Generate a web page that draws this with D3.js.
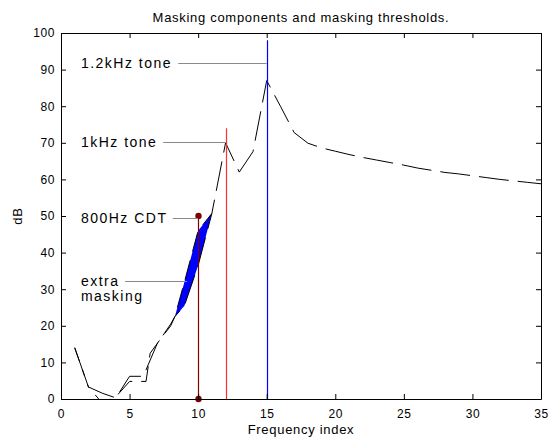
<!DOCTYPE html>
<html>
<head>
<meta charset="utf-8">
<script src="https://cdn.jsdelivr.net/npm/d3@7"></script>
<style>
  body { margin: 0; background: #fff; }
  svg { display: block; font-family: Arial, "Liberation Sans", sans-serif; }
</style>
</head>
<body>
<svg id="chart"></svg>
<script>
// masking threshold (without the CDT)
const threshX = [1, 2, 3, 4, 5, 6, 7, 8, 8.3, 9, 10, 11, 12, 13, 14, 15, 16, 17, 18, 19, 20,
  21, 22, 23, 24, 25, 26, 27, 28, 29, 30, 31, 32, 33, 34, 35]
const threshY = [14, 3.3, 1.6, 0.3, 6.2, 6.2, 15, 20.5, 22.5, 25.5, 36.5, 50.7, 70, 62, 67.6, 87, 80, 72.8, 69.9, 68.6, 67.7,
  66.8, 66, 65.3, 64.6, 63.9, 63.1, 62.5, 61.9, 61.5, 61, 60.5, 60, 59.6, 59.2, 58.8]
// masking threshold with the CDT (part that differs)
const cdtX = [1, 2, 3, 4, 5, 6.2, 6.5, 7.2, 8, 8.3, 9, 10, 11]
const cdtY = [14, 3.3, -1.1, 0.6, 4.8, 4.8, 12.5, 16.1, 20, 22.5, 32, 46, 50.7]
// components (stems)
const stemX = [10, 12, 15]
const stemY = [50, 74, 98]
const stemColors = ['#800000', '#ff3030', '#0000ff']
// annotations
const noteLabels = [['1.2kHz tone'], ['1kHz tone'], ['800Hz CDT'], ['extra', 'masking']]
const noteTextX = [1.45, 1.45, 1.45, 1.45]
const noteY = [91.7, 70.1, 49.4, 32.3]
const noteX0 = [8.55, 7.45, 8.15, 4.67]
const noteX1 = [15, 12, 10, 9.2]
// ticks
const xTicks = [0, 5, 10, 15, 20, 25, 30, 35]
const yTicks = [0, 10, 20, 30, 40, 50, 60, 70, 80, 90, 100]

let width = 549
let height = 439
let padLeft = 61
let padRight = 8
let padTop = 33
let padBottom = 40

let svg = d3.select('#chart')
  .attr('width', width)
  .attr('height', height)

let xScale = d3.scaleLinear().domain([0, 35]).range([padLeft, width - padRight])
let yScale = d3.scaleLinear().domain([0, 100]).range([height - padBottom, padTop])

svg.append('defs').append('clipPath').attr('id', 'plotClip')
  .append('rect')
  .attr('x', padLeft).attr('y', padTop)
  .attr('width', width - padLeft - padRight)
  .attr('height', height - padTop - padBottom)

let plot = svg.append('g').attr('clip-path', 'url(#plotClip)')

// extra masking region between the two thresholds
let fillPts = cdtX.map((x, i) => ({ x: x, hi: cdtY[i], lo: threshY[threshX.indexOf(x)] }))
  .filter(d => d.x >= 8.3)
let area = d3.area()
  .x(d => xScale(d.x))
  .y0(d => yScale(d.lo))
  .y1(d => yScale(d.hi))
plot.append('path')
  .attr('d', area(fillPts))
  .attr('fill', '#0000ff')

// threshold curves (dashed)
let line = d3.line()
  .x(d => xScale(d[0]))
  .y(d => yScale(d[1]))
plot.append('path')
  .attr('d', line(threshX.map((x, i) => [x, threshY[i]])))
  .attr('fill', 'none')
  .attr('stroke', '#000')
  .attr('stroke-width', 1)
  .attr('stroke-dasharray', '30,9')
plot.append('path')
  .attr('d', line(cdtX.map((x, i) => [x, cdtY[i]])))
  .attr('fill', 'none')
  .attr('stroke', '#000')
  .attr('stroke-width', 1)
  .attr('stroke-dasharray', '20,9')
  .attr('stroke-dashoffset', 6)

// stems
stemX.forEach((x, i) => {
  let px = Math.round(xScale(x)) + 0.5
  svg.append('line')
    .attr('x1', px).attr('x2', px)
    .attr('y1', yScale(0)).attr('y2', yScale(stemY[i]))
    .attr('stroke', stemColors[i])
    .attr('stroke-width', 1.2)
})
// markers on the CDT stem
svg.selectAll('circle.cdt')
  .data([0, stemY[0]])
  .enter().append('circle')
  .attr('class', 'cdt')
  .attr('cx', Math.round(xScale(stemX[0])) + 0.5)
  .attr('cy', d => yScale(d))
  .attr('r', 3.2)
  .attr('fill', stemColors[0])

// annotations
noteLabels.forEach((lab, i) => {
  let py = Math.round(yScale(noteY[i])) + 0.5
  svg.append('line')
    .attr('x1', xScale(noteX0[i])).attr('x2', xScale(noteX1[i]))
    .attr('y1', py).attr('y2', py)
    .attr('stroke', '#8a8a8a')
    .attr('stroke-width', 1)
  let t = svg.append('text')
    .attr('x', xScale(noteTextX[i]))
    .attr('y', py + 4.5)
    .style('font-size', '14px')
    .style('letter-spacing', '1.5px')
    .attr('fill', '#000')
  lab.forEach((s, j) => {
    t.append('tspan')
      .attr('x', xScale(noteTextX[i]))
      .attr('dy', j === 0 ? 0 : 15)
      .text(s)
  })
})

// axes, ticks inward on all four sides
function styleAxis(g) {
  g.selectAll('path').attr('stroke', '#000')
  g.selectAll('line').attr('stroke', '#000')
  g.selectAll('text')
    .attr('fill', '#000')
    .style('font-size', '12px')
    .style('letter-spacing', '0.6px')
  g.attr('font-family', null)
}

svg.append('g')
  .attr('transform', 'translate(0,' + yScale(0) + ')')
  .call(d3.axisBottom(xScale).tickValues(xTicks).tickSizeInner(-5).tickSizeOuter(0).tickPadding(10))
  .call(styleAxis)
svg.append('g')
  .attr('transform', 'translate(0,' + yScale(100) + ')')
  .call(d3.axisTop(xScale).tickValues(xTicks).tickSizeInner(-5).tickSizeOuter(0).tickFormat(''))
  .call(styleAxis)
svg.append('g')
  .attr('transform', 'translate(' + xScale(0) + ',0)')
  .call(d3.axisLeft(yScale).tickValues(yTicks).tickSizeInner(-5).tickSizeOuter(0).tickPadding(6))
  .call(styleAxis)
svg.append('g')
  .attr('transform', 'translate(' + xScale(35) + ',0)')
  .call(d3.axisRight(yScale).tickValues(yTicks).tickSizeInner(-5).tickSizeOuter(0).tickFormat(''))
  .call(styleAxis)

// titles
svg.append('text')
  .attr('x', (xScale(0) + xScale(35)) / 2)
  .attr('y', 21.5)
  .attr('text-anchor', 'middle')
  .style('font-size', '13px')
  .style('letter-spacing', '0.7px')
  .text('Masking components and masking thresholds.')
svg.append('text')
  .attr('x', (xScale(0) + xScale(35)) / 2)
  .attr('y', 434)
  .attr('text-anchor', 'middle')
  .style('font-size', '13px')
  .style('letter-spacing', '0.7px')
  .text('Frequency index')
svg.append('text')
  .attr('transform', 'translate(22,' + (yScale(0) + yScale(100)) / 2 + ') rotate(-90)')
  .attr('text-anchor', 'middle')
  .style('font-size', '13px')
  .style('letter-spacing', '0.7px')
  .text('dB')
</script>
</body>
</html>
